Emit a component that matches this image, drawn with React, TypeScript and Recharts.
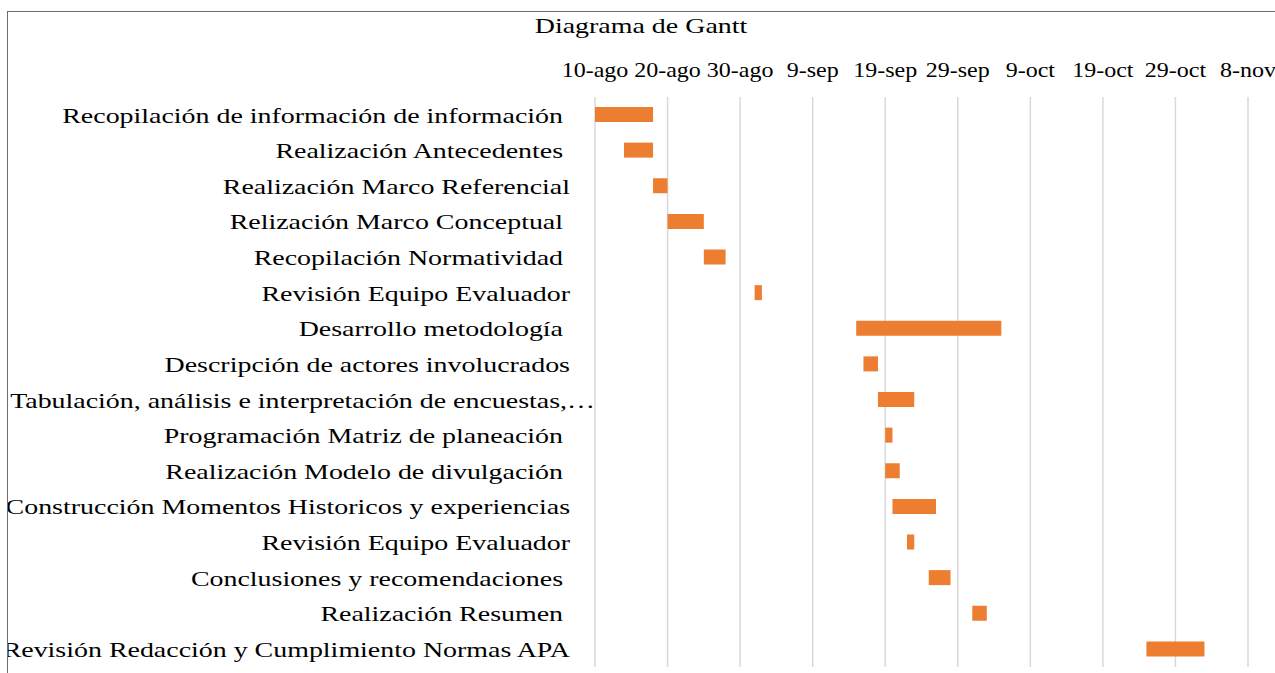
import { BarChart, Bar, XAxis, YAxis, CartesianGrid } from "recharts";

// tasks, with trailing spaces where the original labels had them
const tasks = [
  "Recopilación de información de información ",
  "Realización Antecedentes ",
  "Realización Marco Referencial",
  "Relización Marco Conceptual ",
  "Recopilación Normatividad ",
  "Revisión Equipo Evaluador",
  "Desarrollo metodología ",
  "Descripción de actores involucrados",
  "Tabulación, análisis e interpretación de encuestas,…",
  "Programación Matriz de planeación ",
  "Realización Modelo de divulgación ",
  "Construcción Momentos Historicos y experiencias",
  "Revisión Equipo Evaluador",
  "Conclusiones y recomendaciones ",
  "Realización Resumen ",
  "Revisión Redacción y Cumplimiento Normas APA",
];

// days after 10-ago
const startDays = [0, 4, 8, 10, 15, 22, 36, 37, 39, 40, 40, 41, 43, 46, 52, 76];
const durationDays = [8, 4, 2, 5, 3, 1, 20, 2, 5, 1, 2, 6, 1, 3, 2, 8];

const tickDays = [0, 10, 20, 30, 40, 50, 60, 70, 80, 90];
const tickLabels = [
  "10-ago",
  "20-ago",
  "30-ago",
  "9-sep",
  "19-sep",
  "29-sep",
  "9-oct",
  "19-oct",
  "29-oct",
  "8-nov",
];

const data = tasks.map((name, i) => ({
  key: `${i}`,
  name,
  start: startDays[i],
  duration: durationDays[i],
}));

const FONT = '"Liberation Serif", "Times New Roman", serif';
const STRETCH = 1.27;

function TaskTick({ x, y, payload }: any) {
  const label = tasks[Number(payload.value)];
  const shift = label.endsWith("…") ? 25 : 0;
  return (
    <text
      transform={`translate(${x - 25 + shift},${y}) scale(${STRETCH},1)`}
      textAnchor="end"
      dy="0.35em"
      fontFamily={FONT}
      fontSize={22}
      fill="#000"
      style={{ whiteSpace: "pre" }}
    >
      {label}
    </text>
  );
}

function DateTick({ x, y, payload }: any) {
  const idx = tickDays.indexOf(payload.value);
  return (
    <text
      transform={`translate(${x},${y - 20}) scale(1.2,1)`}
      textAnchor="middle"
      fontFamily={FONT}
      fontSize={20}
      fill="#000"
    >
      {tickLabels[idx]}
    </text>
  );
}

export default function App() {
  return (
    <div
      style={{
        position: "absolute",
        left: 0,
        top: 0,
        width: 1275,
        height: 673,
        overflow: "hidden",
        background: "#fff",
      }}
    >
      <div
        style={{
          position: "absolute",
          left: 7,
          top: 11,
          width: 1300,
          height: 700,
          borderTop: "1px solid #6e6e6e",
          borderLeft: "1px solid #6e6e6e",
          overflow: "hidden",
        }}
      >
        <div style={{ position: "absolute", left: -7, top: -11 }}>
          <BarChart
            width={1275}
            height={673}
            data={data}
            layout="vertical"
            margin={{ top: 0, right: 28, bottom: 7, left: 0 }}
            barSize={15}
          >
            <CartesianGrid
              horizontal={false}
              stroke="#d9d9d9"
              strokeWidth={1.5}
            />
            <XAxis
              type="number"
              orientation="top"
              domain={[0, 90]}
              ticks={tickDays}
              height={96}
              axisLine={false}
              tickLine={false}
              tickSize={0}
              tickMargin={0}
              tick={<DateTick />}
              interval={0}
            />
            <YAxis
              type="category"
              dataKey="key"
              width={594}
              axisLine={false}
              tickLine={false}
              tickSize={0}
              tickMargin={0}
              tick={<TaskTick />}
              interval={0}
            />
            <Bar
              dataKey="start"
              stackId="g"
              fill="transparent"
              isAnimationActive={false}
            />
            <Bar
              dataKey="duration"
              stackId="g"
              fill="#ED7D31"
              isAnimationActive={false}
            />
          </BarChart>
          <div
            style={{
              position: "absolute",
              left: 0,
              top: 12,
              width: 1280,
              textAlign: "center",
              fontFamily: FONT,
              fontSize: 22,
              lineHeight: "26px",
              color: "#000",
              transform: `scaleX(${STRETCH})`,
              transformOrigin: "640px 0",
            }}
          >
            Diagrama de Gantt
          </div>
        </div>
      </div>
    </div>
  );
}
